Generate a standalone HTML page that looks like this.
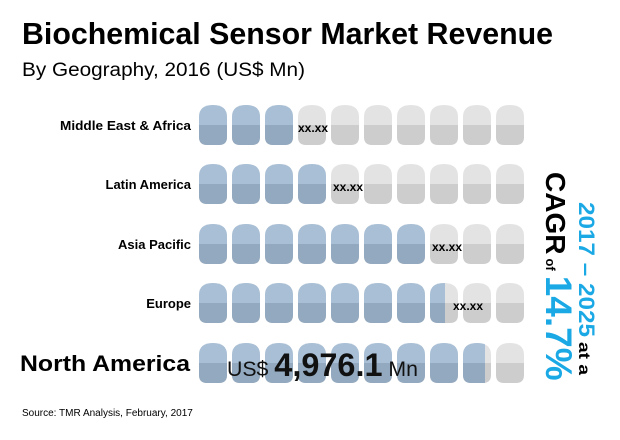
<!DOCTYPE html>
<html><head><meta charset="utf-8"><style>html,body{margin:0;padding:0;background:#fff}svg{display:block}</style></head>
<body>
<svg width="620" height="440" viewBox="0 0 620 440" xmlns="http://www.w3.org/2000/svg" xmlns:xlink="http://www.w3.org/1999/xlink" font-family="Liberation Sans, sans-serif">
<defs>
<g id="g"><path d="M0,12 Q0,0 14,0 Q28,0 28,12 V20 H0Z" fill="#e3e3e3"/><path d="M0,20 H28 V32 Q28,40 20,40 H8 Q0,40 0,32Z" fill="#cdcdcd"/></g>
<g id="b"><path d="M0,12 Q0,0 14,0 Q28,0 28,12 V20 H0Z" fill="#a8bfd6"/><path d="M0,20 H28 V32 Q28,40 20,40 H8 Q0,40 0,32Z" fill="#93a9bf"/></g>
<g id="row"><use href="#g" x="0"/><use href="#g" x="33"/><use href="#g" x="66"/><use href="#g" x="99"/><use href="#g" x="132"/><use href="#g" x="165"/><use href="#g" x="198"/><use href="#g" x="231"/><use href="#g" x="264"/><use href="#g" x="297"/></g>
<clipPath id="c1"><rect x="231" y="0" width="15" height="40"/></clipPath>
<clipPath id="c2"><rect x="264" y="0" width="22" height="40"/></clipPath>
</defs>
<text x="22" y="44" font-size="31" font-weight="bold" fill="#000" textLength="531" lengthAdjust="spacingAndGlyphs">Biochemical Sensor Market Revenue</text>
<text x="22" y="76" font-size="19" fill="#000" textLength="283" lengthAdjust="spacingAndGlyphs">By Geography, 2016 (US$ Mn)</text>

<g transform="translate(199,105)"><use href="#row"/><use href="#b" x="0"/><use href="#b" x="33"/><use href="#b" x="66"/></g>
<g transform="translate(199,164)"><use href="#row"/><use href="#b" x="0"/><use href="#b" x="33"/><use href="#b" x="66"/><use href="#b" x="99"/></g>
<g transform="translate(199,224)"><use href="#row"/><use href="#b" x="0"/><use href="#b" x="33"/><use href="#b" x="66"/><use href="#b" x="99"/><use href="#b" x="132"/><use href="#b" x="165"/><use href="#b" x="198"/></g>
<g transform="translate(199,283)"><use href="#row"/><use href="#b" x="0"/><use href="#b" x="33"/><use href="#b" x="66"/><use href="#b" x="99"/><use href="#b" x="132"/><use href="#b" x="165"/><use href="#b" x="198"/><g clip-path="url(#c1)"><use href="#b" x="231"/></g></g>
<g transform="translate(199,343)"><use href="#row"/><use href="#b" x="0"/><use href="#b" x="33"/><use href="#b" x="66"/><use href="#b" x="99"/><use href="#b" x="132"/><use href="#b" x="165"/><use href="#b" x="198"/><use href="#b" x="231"/><g clip-path="url(#c2)"><use href="#b" x="264"/></g></g>

<g font-size="13" font-weight="bold" text-anchor="end" fill="#000">
<text x="191" y="130" textLength="131" lengthAdjust="spacingAndGlyphs">Middle East &amp; Africa</text>
<text x="191" y="189">Latin America</text>
<text x="191" y="249">Asia Pacific</text>
<text x="191" y="308">Europe</text>
</g>
<text x="20" y="371" font-size="22" font-weight="bold" textLength="170" lengthAdjust="spacingAndGlyphs">North America</text>
<g font-size="12" font-weight="bold">
<text x="298" y="132">xx.xx</text>
<text x="333" y="191">xx.xx</text>
<text x="432" y="251">xx.xx</text>
<text x="453" y="310">xx.xx</text>
</g>
<text x="227" y="376" font-size="21" fill="#111" textLength="191" lengthAdjust="spacingAndGlyphs">US$ <tspan font-size="32" font-weight="bold">4,976.1</tspan> <tspan font-size="21">Mn</tspan></text>
<text x="22" y="416" font-size="10" fill="#000">Source: TMR Analysis, February, 2017</text>
<text transform="translate(546,172) rotate(90)" font-weight="bold"><tspan font-size="28" fill="#000">CAGR</tspan><tspan font-size="13" dx="4" fill="#000">of</tspan><tspan font-size="37" dx="5" fill="#1ba9e6">14.7%</tspan></text>
<text transform="translate(579,202) rotate(90)" font-weight="bold" font-size="22" fill="#1ba9e6" textLength="135" lengthAdjust="spacingAndGlyphs">2017 – 2025</text>
<text transform="translate(579,342) rotate(90)" font-weight="bold" font-size="16" fill="#000" textLength="33" lengthAdjust="spacingAndGlyphs">at a</text>
</svg>
</body></html>
